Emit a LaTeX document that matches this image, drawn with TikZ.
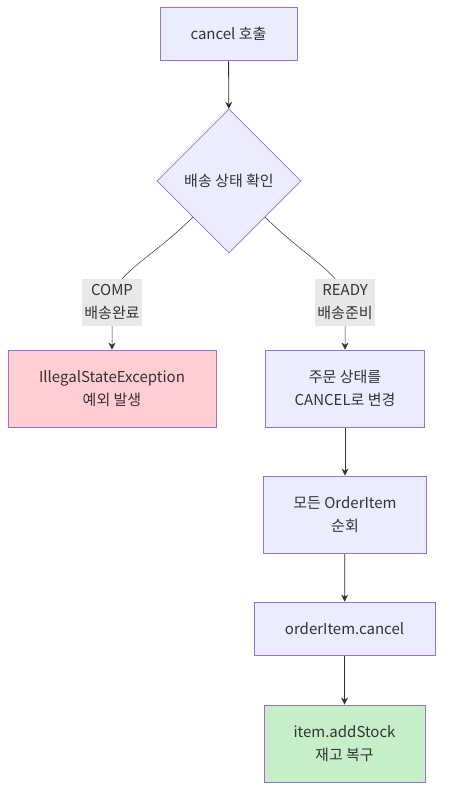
\documentclass[tikz,border=0pt]{standalone}
\usepackage{fontspec}
\setmainfont{Noto Sans CJK KR}
\usetikzlibrary{shapes.geometric,arrows.meta,backgrounds}

\definecolor{boxfill}{HTML}{ECECFF}
\definecolor{boxline}{HTML}{9370DB}
\definecolor{errfill}{HTML}{FFCDD2}
\definecolor{okfill}{HTML}{C6EFC9}
\definecolor{lblfill}{HTML}{E8E8E8}
\definecolor{ink}{HTML}{333333}

\begin{document}
\begin{tikzpicture}[x=1pt, y=-1pt,
    every node/.style={text=ink, font=\fontsize{15}{23}\selectfont, align=center},
    box/.style={draw=boxline, fill=boxfill, line width=0.8pt, inner sep=0pt},
    lbl/.style={fill=lblfill, inner sep=2pt, minimum width=54pt, minimum height=47pt},
    arr/.style={draw=ink, line width=0.8pt, -{Stealth[length=7pt,width=7pt]}}]
  \useasboundingbox (0,0) rectangle (451,803);

  \node[box, minimum width=137pt, minimum height=53pt] (start) at (228.5, 33.5) {cancel 호출};
  \node[box, diamond, minimum width=144pt, minimum height=144pt] (dec) at (229, 181) {배송 상태 확인};
  \node[lbl] (comp) at (112, 302) {COMP\\배송완료};
  \node[lbl] (ready) at (345, 302) {READY\\배송준비};
  \node[box, fill=errfill, minimum width=208pt, minimum height=77pt] (err) at (112, 388.5) {IllegalStateException\\예외 발생};
  \node[box, minimum width=159pt, minimum height=77pt] (chg) at (345, 388.5) {주문 상태를\\CANCEL로 변경};
  \node[box, minimum width=163pt, minimum height=77pt] (loop) at (345, 514.5) {모든 OrderItem\\순회};
  \node[box, minimum width=181pt, minimum height=53pt] (oc) at (344.5, 628.5) {orderItem.cancel};
  \node[box, fill=okfill, minimum width=161pt, minimum height=77pt] (stock) at (344.5, 743.5) {item.addStock\\재고 복구};

  \begin{scope}[on background layer]
    \draw[arr] (start) -- (dec);
    \draw[arr, line width=0.5pt] (dec.south west) to[out=-135, in=90, out looseness=1.3, in looseness=0.6] (comp.center) -- (err);
    \draw[arr, line width=0.5pt] (dec.south east) to[out=-45, in=90, out looseness=1.3, in looseness=0.6] (ready.center) -- (chg);
    \draw[arr] (chg) -- (loop);
    \draw[arr] (loop) -- (oc);
    \draw[arr] (oc) -- (stock);
  \end{scope}
\end{tikzpicture}
\end{document}
